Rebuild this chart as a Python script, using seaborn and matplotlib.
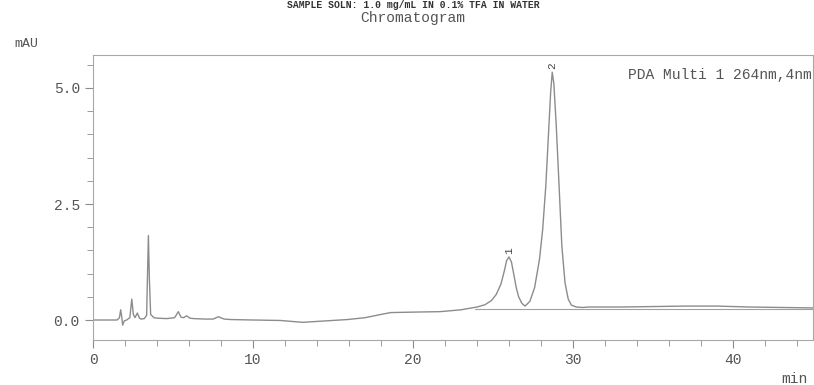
import numpy as np
import pandas as pd
import seaborn as sns
import matplotlib.pyplot as plt
from matplotlib.ticker import MultipleLocator

# retention time (min) and detector signal (mAU)
time_min = [
    0.0, 1.0, 1.5, 1.65, 1.73, 1.8, 1.85, 1.95, 2.1, 2.3, 2.42, 2.52, 2.62,
    2.77, 2.9, 3.0, 3.2, 3.35, 3.40, 3.46, 3.52, 3.6, 3.8, 4.0, 4.6, 5.1,
    5.33, 5.5, 5.65, 5.85, 6.05, 6.3, 7.0, 7.5, 7.83, 8.2, 8.6, 10.0, 11.7,
    13.1, 14.5, 15.9, 17.0, 18.0, 18.6, 20.0, 21.7, 23.0, 23.5, 24.0, 24.5,
    24.9, 25.2, 25.5, 25.7, 25.85, 26.0, 26.15, 26.3, 26.45, 26.6, 26.8,
    27.0, 27.3, 27.6, 27.9, 28.1, 28.3, 28.45, 28.6, 28.7, 28.8, 28.95,
    29.1, 29.3, 29.5, 29.7, 29.9, 30.2, 30.6, 31.0, 33.0, 35.0, 37.0, 39.0,
    41.0, 43.0, 45.0,
]
signal_mau = [
    0.0, 0.0, 0.0, 0.05, 0.22, 0.05, -0.11, -0.02, 0.0, 0.05, 0.45, 0.12,
    0.05, 0.15, 0.04, 0.02, 0.03, 0.10, 0.90, 1.82, 0.90, 0.12, 0.05, 0.04,
    0.03, 0.05, 0.18, 0.06, 0.05, 0.09, 0.04, 0.03, 0.02, 0.02, 0.07, 0.02,
    0.01, 0.0, -0.01, -0.05, -0.02, 0.01, 0.05, 0.12, 0.16, 0.17, 0.18,
    0.22, 0.25, 0.28, 0.33, 0.42, 0.55, 0.78, 1.05, 1.28, 1.36, 1.25, 0.98,
    0.70, 0.50, 0.36, 0.30, 0.40, 0.70, 1.30, 1.94, 2.90, 3.90, 4.90, 5.34,
    5.10, 4.20, 3.10, 1.60, 0.80, 0.45, 0.32, 0.28, 0.27, 0.28, 0.28, 0.29,
    0.30, 0.30, 0.28, 0.27, 0.26,
]

# integration baseline under the two labelled peaks
baseline_time = [23.9, 45.0]
baseline_mau = [0.24, 0.24]

peak_labels = ["1", "2"]
peak_times = [26.0, 28.7]
peak_heights = [1.36, 5.34]

df = pd.DataFrame({"time": time_min, "signal": signal_mau})

sns.set_style("white")
plt.rcParams["font.family"] = ["Liberation Mono", "DejaVu Sans Mono"]
text_col = "#555555"
line_col = "#8c8c8c"

fig = plt.figure(figsize=(8.14, 3.85), dpi=100)
ax = fig.add_axes([0.1143, 0.117, 0.8845, 0.740])

sns.lineplot(data=df, x="time", y="signal", ax=ax, color=line_col, lw=1.0)
ax.plot(baseline_time, baseline_mau, color="#a0a0a0", lw=0.8)

for lab, t, h in zip(peak_labels, peak_times, peak_heights):
    ax.text(t, h + 0.06, lab, rotation=90, ha="center", va="bottom",
            fontsize=8, color="#444444")

ax.set_xlim(0, 45)
ax.set_ylim(-0.43, 5.71)
ax.xaxis.set_major_locator(MultipleLocator(10))
ax.xaxis.set_minor_locator(MultipleLocator(2))
ax.yaxis.set_major_locator(MultipleLocator(2.5))
ax.yaxis.set_minor_locator(MultipleLocator(0.5))
ax.yaxis.set_major_formatter(plt.FormatStrFormatter("%.1f"))
ax.tick_params(which="both", direction="out", colors=line_col,
               labelcolor=text_col, labelsize=10.5, left=True, bottom=True)
ax.tick_params(which="major", length=6)
ax.tick_params(which="minor", length=4)
for s in ax.spines.values():
    s.set_color("#a8a8a8")
    s.set_linewidth(0.8)
ax.set_xlabel("")
ax.set_ylabel("")

ax.text(0.998, 0.955, "PDA Multi 1 264nm,4nm", transform=ax.transAxes,
        ha="right", va="top", fontsize=10.5, color=text_col)

fig.text(14 / 814, 1 - 44 / 385, "mAU", ha="left", va="center",
         fontsize=9.5, color=text_col)
fig.text(808 / 814, 1 - 379 / 385, "min", ha="right", va="center",
         fontsize=10.5, color=text_col)
fig.text(413 / 814, 1 - 18 / 385, "Chromatogram", ha="center", va="center",
         fontsize=10.5, color=text_col)
fig.text(413 / 814, 1 - 0.5 / 385, "SAMPLE SOLN: 1.0 mg/mL IN 0.1% TFA IN WATER",
         ha="center", va="top", fontsize=7, fontweight="bold",
         color="#333333")

fig.savefig("out.png", dpi=100, facecolor="white")
